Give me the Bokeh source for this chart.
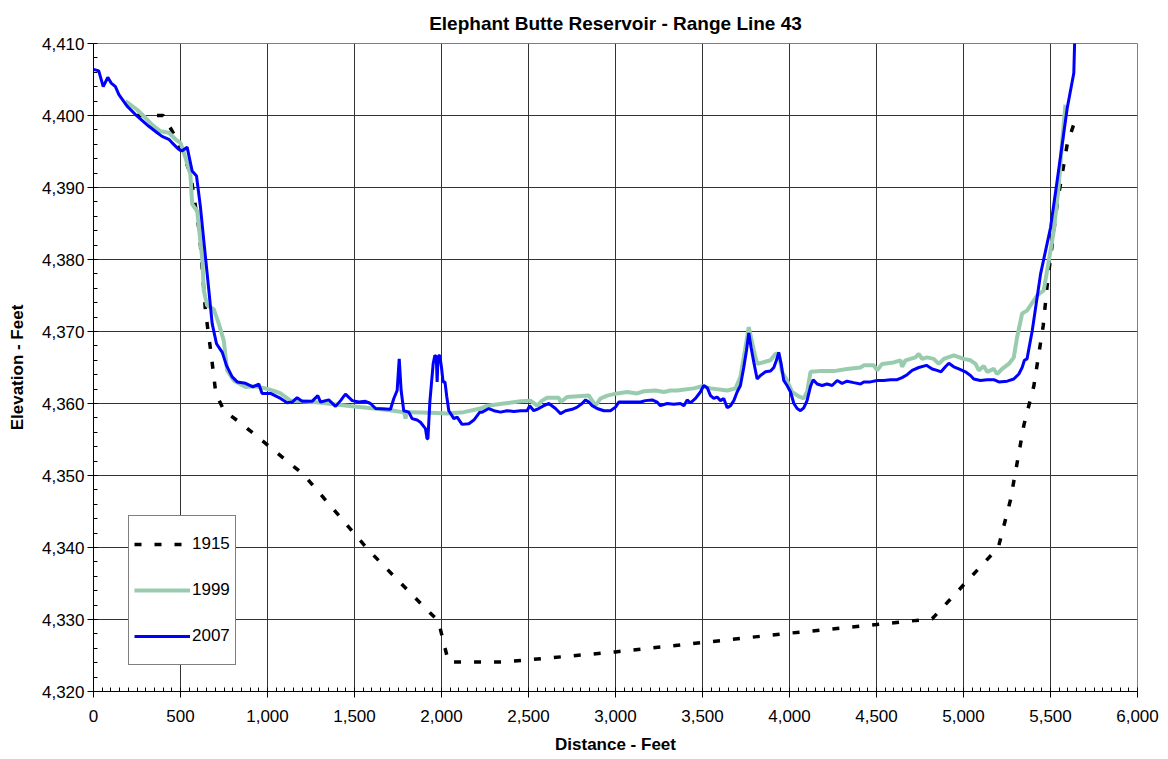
from bokeh.plotting import figure
from bokeh.models import (Range1d, NumeralTickFormatter, SingleIntervalTicker, Legend, LegendItem)
from bokeh.embed import file_html
from bokeh.resources import INLINE

# ---------------- data ----------------
x_1915 = [250, 400, 470, 557, 609, 644, 676, 703, 750, 845, 1209, 1582, 1914, 1982, 2040,
          2350, 2500, 3000, 3500, 4000, 4500, 4820, 5200, 5270, 5347, 5404, 5458, 5481,
          5538, 5596, 5645]
y_1915 = [4400.0, 4400.0, 4397.1, 4392.0, 4383.7, 4372.7, 4366.9, 4361.4, 4359.0, 4357.3,
          4350.1, 4339.6, 4331.4, 4329.8, 4324.1, 4324.1, 4324.4, 4325.5, 4326.8, 4328.1,
          4329.3, 4330.1, 4340.0, 4346.6, 4357.0, 4362.4, 4370.8, 4376.4, 4387.7, 4396.0,
          4399.6]

x_1999 = [184, 251, 289, 337, 385, 433, 471, 500, 529, 557, 567, 596, 625, 634, 653, 691,
          720, 749, 768, 806, 874, 921, 989, 1055, 1075, 1132, 1266, 1458, 1611, 1726, 1774,
          1786, 1793, 1800, 1822, 1937, 2032, 2128, 2224, 2263, 2358, 2454, 2511, 2550, 2578,
          2607, 2674, 2684, 2722, 2847, 2885, 2914, 2952, 3009, 3067, 3124, 3163, 3230, 3278,
          3316, 3354, 3450, 3498, 3546, 3642, 3690, 3718, 3747, 3766, 3795, 3814, 3891, 3920,
          3938, 3957, 3986, 4015, 4053, 4082, 4101, 4121, 4178, 4254, 4331, 4408, 4427, 4484,
          4504, 4532, 4599, 4638, 4647, 4667, 4724, 4743, 4762, 4791, 4829, 4858, 4887, 4944,
          5001, 5040, 5069, 5088, 5116, 5136, 5174, 5193, 5222, 5260, 5289, 5308, 5337, 5365,
          5423, 5461, 5490, 5519, 5548, 5567, 5586]
y_1999 = [4402.0, 4400.8, 4399.9, 4398.7, 4397.8, 4397.6, 4396.7, 4396.2, 4394.1, 4391.8,
          4387.7, 4386.7, 4380.1, 4375.7, 4373.6, 4373.1, 4371.1, 4368.7, 4364.6, 4363.2,
          4362.3, 4362.4, 4362.1, 4361.6, 4361.4, 4360.4, 4360.2, 4359.7, 4359.3, 4359.0,
          4358.8, 4358.8, 4357.9, 4358.8, 4358.8, 4358.7, 4358.6, 4358.8, 4359.3, 4359.7,
          4360.0, 4360.3, 4360.4, 4359.7, 4360.4, 4360.8, 4360.8, 4360.2, 4360.9, 4361.1,
          4359.7, 4360.7, 4361.1, 4361.4, 4361.6, 4361.4, 4361.7, 4361.8, 4361.6, 4361.8,
          4361.8, 4362.1, 4362.4, 4362.1, 4361.8, 4362.1, 4363.7, 4367.8, 4370.6, 4367.4,
          4365.5, 4366.0, 4366.9, 4366.9, 4364.4, 4363.2, 4361.6, 4361.0, 4360.7, 4361.6,
          4364.4, 4364.5, 4364.5, 4364.8, 4365.0, 4365.3, 4365.3, 4364.6, 4365.5, 4365.7,
          4366.0, 4365.1, 4366.0, 4366.4, 4366.9, 4366.2, 4366.4, 4366.2, 4365.5, 4366.2,
          4366.7, 4366.2, 4366.0, 4365.5, 4364.6, 4365.2, 4364.4, 4364.8, 4364.1, 4364.8,
          4365.5, 4366.4, 4369.2, 4372.5, 4372.9, 4375.0, 4375.7, 4379.8, 4384.0, 4390.4,
          4396.4, 4401.5]

x_2007 = [0, 30, 56, 82, 102, 126, 146, 193, 251, 318, 366, 394, 433, 452, 490, 510, 538,
          567, 592, 615, 634, 663, 682, 707, 740, 764, 797, 826, 874, 916, 950, 969, 1017,
          1075, 1113, 1142, 1170, 1199, 1256, 1289, 1305, 1352, 1391, 1420, 1448, 1487, 1525,
          1563, 1592, 1621, 1707, 1726, 1745, 1757, 1768, 1783, 1812, 1831, 1860, 1879, 1908,
          1917, 1922, 1933, 1952, 1962, 1970, 1975, 1980, 1990, 2000, 2009, 2020, 2030, 2042,
          2071, 2090, 2118, 2157, 2186, 2220, 2234, 2272, 2301, 2339, 2377, 2416, 2454, 2492,
          2507, 2530, 2559, 2588, 2617, 2655, 2684, 2713, 2751, 2780, 2808, 2828, 2847, 2866,
          2894, 2933, 2971, 3000, 3019, 3067, 3105, 3144, 3172, 3211, 3239, 3258, 3297, 3335,
          3373, 3393, 3412, 3431, 3460, 3488, 3507, 3527, 3546, 3565, 3584, 3603, 3622, 3642,
          3661, 3680, 3699, 3718, 3737, 3753, 3766, 3779, 3795, 3814, 3833, 3862, 3891, 3910,
          3925, 3938, 3952, 3967, 3986, 4006, 4025, 4044, 4063, 4082, 4101, 4121, 4136, 4159,
          4187, 4216, 4245, 4274, 4302, 4331, 4369, 4408, 4427, 4465, 4504, 4542, 4580, 4619,
          4647, 4676, 4705, 4743, 4787, 4820, 4848, 4871, 4896, 4916, 4944, 4973, 5011, 5040,
          5059, 5097, 5136, 5174, 5203, 5251, 5289, 5318, 5337, 5350, 5365, 5395, 5443, 5500,
          5538, 5596, 5634, 5645]
y_2007 = [4406.4, 4406.2, 4404.0, 4405.3, 4404.5, 4404.0, 4402.9, 4401.3, 4399.9, 4398.5,
          4397.6, 4397.1, 4396.7, 4396.2, 4395.3, 4395.1, 4395.6, 4392.3, 4391.6, 4387.2,
          4382.6, 4375.7, 4371.1, 4368.3, 4367.1, 4365.3, 4363.7, 4363.0, 4362.8, 4362.3,
          4362.7, 4361.4, 4361.4, 4360.7, 4360.1, 4360.2, 4360.8, 4360.3, 4360.3, 4361.1,
          4360.2, 4360.5, 4359.6, 4360.4, 4361.3, 4360.4, 4360.2, 4360.3, 4360.0, 4359.3,
          4359.2, 4360.7, 4361.8, 4366.2, 4361.8, 4359.0, 4358.8, 4357.9, 4357.7, 4357.4,
          4356.5, 4355.1, 4355.1, 4360.2, 4365.5, 4366.7, 4366.5, 4363.0, 4366.5, 4366.7,
          4365.0, 4363.0, 4363.0, 4361.0, 4359.0, 4357.9, 4358.1, 4357.1, 4357.2, 4357.7,
          4358.8, 4358.8, 4359.3, 4359.0, 4358.8, 4359.0, 4358.9, 4359.0, 4359.0, 4359.7,
          4359.0, 4359.3, 4359.7, 4360.0, 4359.3, 4358.6, 4359.0, 4359.2, 4359.5, 4360.0,
          4360.5, 4360.2, 4359.7, 4359.3, 4359.0, 4359.0, 4359.5, 4360.2, 4360.2, 4360.2,
          4360.2, 4360.4, 4360.5, 4360.2, 4359.7, 4360.0, 4359.9, 4360.0, 4359.7, 4360.5,
          4360.1, 4360.7, 4361.6, 4362.5, 4362.2, 4361.1, 4360.7, 4360.9, 4360.4, 4360.7,
          4359.4, 4359.7, 4360.4, 4361.6, 4362.5, 4365.0, 4367.4, 4369.8, 4367.8, 4365.7,
          4363.4, 4363.9, 4364.4, 4364.5, 4365.0, 4366.0, 4367.1, 4365.5, 4363.2, 4362.5,
          4361.6, 4360.0, 4359.3, 4359.0, 4359.4, 4360.4, 4362.4, 4363.3, 4362.7, 4362.5,
          4362.7, 4362.5, 4363.2, 4362.8, 4363.1, 4362.9, 4362.7, 4363.0, 4363.0, 4363.2,
          4363.2, 4363.3, 4363.3, 4363.6, 4364.0, 4364.6, 4365.0, 4365.3, 4364.8, 4364.6,
          4364.4, 4365.1, 4365.6, 4365.1, 4364.8, 4364.4, 4363.9, 4363.4, 4363.2, 4363.3,
          4363.3, 4363.0, 4363.1, 4363.4, 4364.1, 4365.0, 4366.0, 4366.2, 4370.1, 4378.0,
          4384.4, 4390.9, 4401.0, 4405.9, 4416.0]

x_ticks_major = 500
y_ticks_major = 10

FONT = "Liberation Sans"

p = figure(width=1160, height=756, output_backend="svg", toolbar_location=None,
           x_range=Range1d(0, 6000), y_range=Range1d(4320, 4410),
           min_border_left=93, min_border_right=23, min_border_top=42, min_border_bottom=64)

p.title.text = "Elephant Butte Reservoir - Range Line 43"
p.title.align = "center"
p.title.text_font = FONT
p.title.text_font_size = "19px"
p.title.text_font_style = "bold"
p.title.text_color = "black"
p.title.standoff = 20

p.outline_line_color = "#808080"
p.outline_line_width = 1

for ax in (p.xaxis[0], p.yaxis[0]):
    ax.axis_line_color = "black"
    ax.major_tick_line_color = "black"
    ax.minor_tick_line_color = "black"
    ax.major_tick_out = 6
    ax.major_tick_in = 0
    ax.minor_tick_in = 4
    ax.minor_tick_out = 0
    ax.major_label_text_font = FONT
    ax.major_label_text_font_size = "17px"
    ax.major_label_text_color = "black"
    ax.axis_label_text_font = FONT
    ax.axis_label_text_font_size = "17px"
    ax.axis_label_text_font_style = "bold"
    ax.axis_label_text_color = "black"
    ax.formatter = NumeralTickFormatter(format="0,0")

p.xaxis[0].ticker = SingleIntervalTicker(interval=x_ticks_major, num_minor_ticks=10)
p.yaxis[0].ticker = SingleIntervalTicker(interval=y_ticks_major, num_minor_ticks=5)
p.xaxis.axis_label = "Distance - Feet"
p.yaxis.axis_label = "Elevation - Feet"
p.xaxis.major_label_standoff = 12
p.xaxis.axis_label_standoff = 10
p.yaxis.major_label_standoff = 3
p.yaxis.axis_label_standoff = 12

p.xgrid.ticker = p.xaxis[0].ticker
p.ygrid.ticker = p.yaxis[0].ticker
p.grid.grid_line_color = "#333333"
p.grid.grid_line_width = 1

r1915 = p.line(x_1915, y_1915, line_color="black", line_width=3.5, line_dash="7 13")
r1999 = p.line(x_1999, y_1999, line_color="#99CCAF", line_width=4)
r2007 = p.line(x_2007, y_2007, line_color="#0000FF", line_width=3)

legend = Legend(items=[LegendItem(label="1915", renderers=[r1915]),
                       LegendItem(label="1999", renderers=[r1999]),
                       LegendItem(label="2007", renderers=[r2007])],
                location=(35, 26), orientation="vertical",
                padding=5, spacing=0, margin=0,
                label_height=46, glyph_height=46, glyph_width=56, label_standoff=2,
                label_text_font=FONT, label_text_font_size="17px", label_text_color="black",
                border_line_color="black", border_line_width=1,
                background_fill_color="white", background_fill_alpha=1)
p.add_layout(legend, "center")

open("out.html", "w").write(file_html(p, INLINE))
